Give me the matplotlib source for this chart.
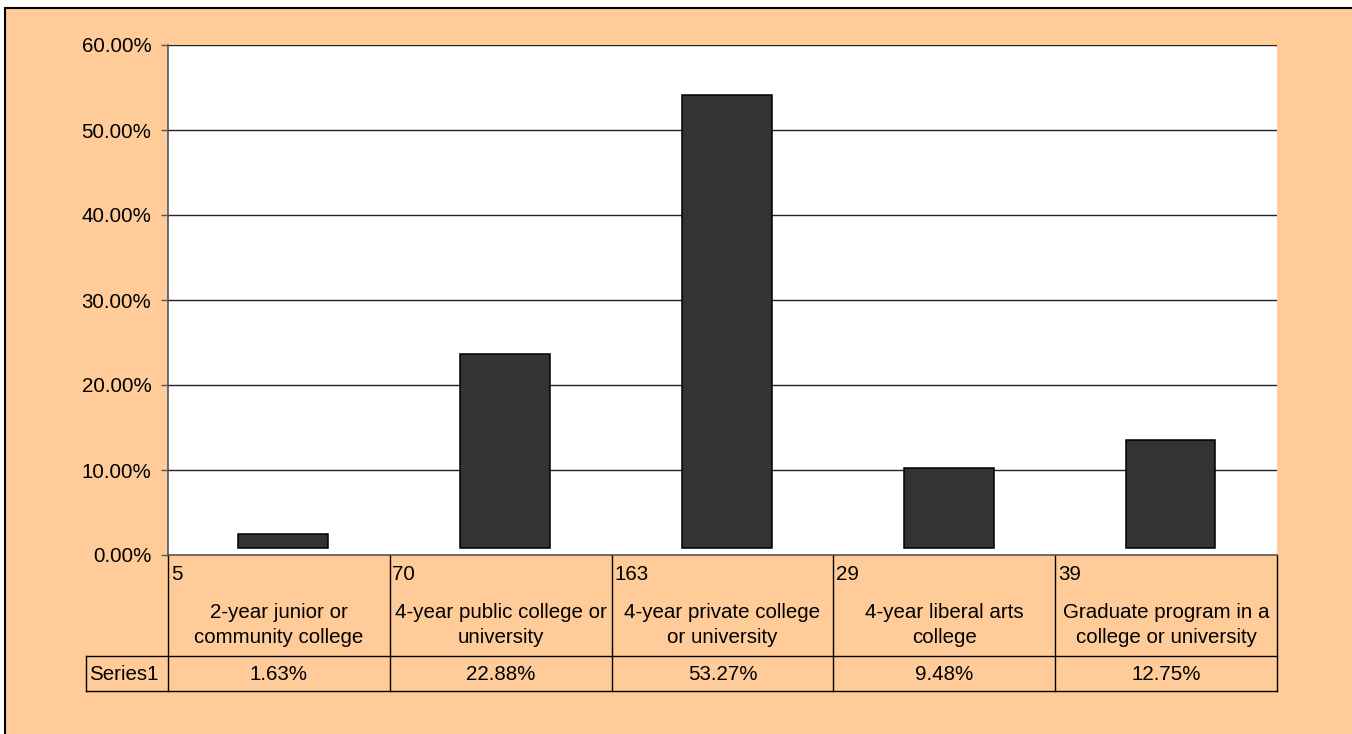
""" Institution type bar chart with data table """
import numpy as np
import matplotlib
matplotlib.use('Agg')
from matplotlib import pyplot as plt
from matplotlib import transforms
from matplotlib.patches import Rectangle

# Data
counts = [5, 70, 163, 29, 39]
categories = ['2-year junior or\ncommunity college',
              '4-year public college or\nuniversity',
              '4-year private college\nor university',
              '4-year liberal arts\ncollege',
              'Graduate program in a\ncollege or university']
percents = [1.63, 22.88, 53.27, 9.48, 12.75]
series_name = 'Series1'
yticks = [0, 10, 20, 30, 40, 50, 60]

plt.rcParams['font.family'] = ['Liberation Sans', 'DejaVu Sans']
FS = 14.8

W, H = 1352, 734
peach = '#FFCC99'

def fx(x):
    return x / W

def fy(y):
    return 1 - y / H

fig = plt.figure(figsize=(W/100, H/100), dpi=100, facecolor='white')

# Chart area background with border on the top/left
fig.patches.append(Rectangle((fx(5), -0.1), 1.2, fy(8) + 0.1, transform=fig.transFigure,
                             facecolor=peach, edgecolor='black', lw=1.5, zorder=-5))

# Plot area
ax = fig.add_axes([fx(168), fy(555), fx(1277) - fx(168), fy(45) - fy(555)])
ax.set_facecolor('white')
xvals = np.arange(len(percents))
bar_base = 0.8   # Excel draws the bars slightly above the axis
ax.bar(xvals + 0.02, percents, bottom=bar_base, width=0.405, color='#333333',
       edgecolor='black', lw=1.1, zorder=3)

ax.set_xlim(-0.5, len(percents) - 0.5)
ax.set_ylim(0, 60)
ax.set_yticks(yticks)
ax.set_yticklabels([f'{v:.2f}%' for v in yticks], fontsize=FS)
ax.tick_params(axis='y', length=5, width=1, color='#555555', pad=7)
ax.set_xticks([])
for yy in yticks[1:]:
    ax.axhline(yy, color='#222222', lw=1, zorder=1)
for side in ['top', 'right']:
    ax.spines[side].set_visible(False)
ax.spines['left'].set_color('#555555')
ax.spines['bottom'].set_color('#555555')
ax.spines['left'].set_linewidth(1.2)
ax.spines['bottom'].set_linewidth(1.2)

# Data table below the axis: x from data, y in figure coords
trans = transforms.blended_transform_factory(ax.transData, fig.transFigure)
lkw = dict(color='black', lw=1, transform=trans, clip_on=False)
y_top, y_mid, y_bot = fy(555), fy(656), fy(691)
bounds = np.arange(len(percents) + 1) - 0.5
for b in bounds:
    ax.plot([b, b], [y_top, y_bot], **lkw)
x_lbl_left = -0.5 - (168 - 86) / ((1277 - 168) / len(percents))
for yy in [y_mid, y_bot]:
    ax.plot([x_lbl_left, bounds[-1]], [yy, yy], **lkw)
ax.plot([x_lbl_left, x_lbl_left], [y_mid, y_bot], **lkw)

for ii in range(len(percents)):
    ax.text(ii - 0.488, fy(574), str(counts[ii]), transform=trans,
            ha='left', va='center', fontsize=FS, clip_on=False)
    ax.text(ii, fy(625), categories[ii], transform=trans, ha='center',
            va='center', fontsize=FS, linespacing=1.45, clip_on=False)
    ax.text(ii, fy(675), f'{percents[ii]:.2f}%', transform=trans,
            ha='center', va='center', fontsize=FS, clip_on=False)
ax.text(x_lbl_left + 0.015, fy(675), series_name, transform=trans,
        ha='left', va='center', fontsize=FS, clip_on=False)

plt.savefig('out.png', dpi=100, facecolor=fig.get_facecolor())
print('Saved out.png')
